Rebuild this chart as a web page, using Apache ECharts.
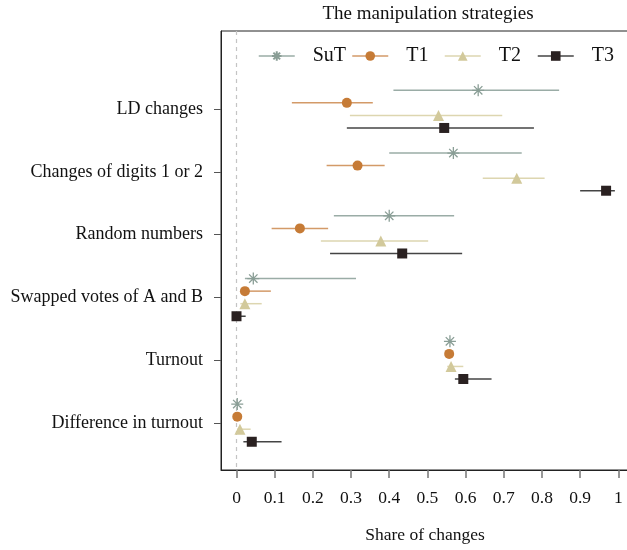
<!DOCTYPE html>
<html><head><meta charset="utf-8">
<script src="https://cdn.jsdelivr.net/npm/echarts@6/dist/echarts.min.js"></script>
<style>html,body{margin:0;padding:0;background:#fff}#c{width:627px;height:550px}</style>
</head><body><div id="c"></div>
<script>
const categories = ['LD changes','Changes of digits 1 or 2','Random numbers','Swapped votes of A and B','Turnout','Difference in turnout'];
const seriesNames = ['SuT','T1','T2','T3'];
const xTicks = [0,0.1,0.2,0.3,0.4,0.5,0.6,0.7,0.8,0.9,1];
// point estimates and interval ends per series (same order as categories)
const sutMean = [0.633, 0.568, 0.400, 0.044, 0.559, 0.002];
const sutLow  = [0.411, 0.400, 0.255, 0.022, 0.555, 0.000];
const sutHigh = [0.845, 0.747, 0.570, 0.313, 0.563, 0.004];
const t1Mean = [0.289, 0.317, 0.166, 0.022, 0.557, 0.002];
const t1Low  = [0.145, 0.236, 0.092, 0.015, 0.553, 0.000];
const t1High = [0.357, 0.388, 0.240, 0.090, 0.561, 0.004];
const t2Mean = [0.529, 0.734, 0.378, 0.022, 0.562, 0.009];
const t2Low  = [0.297, 0.645, 0.221, 0.010, 0.552, 0.002];
const t2High = [0.696, 0.807, 0.502, 0.066, 0.594, 0.037];
const t3Mean = [0.544, 0.968, 0.434, 0.000, 0.594, 0.040];
const t3Low  = [0.289, 0.900, 0.245, 0.000, 0.572, 0.018];
const t3High = [0.779, 0.991, 0.591, 0.024, 0.668, 0.118];

const FONT = 'Liberation Serif';
const colors = ['#8a9e96','#c67b36','#d2c99b','#2a2121'];
const barColors = ['#9aaca6','#d39a68','#ddd6b0','#444444'];
const offsets = [-0.30,-0.10,0.10,0.30];
const symbols = [
  'path://M0,-10L0,10M-10,0L10,0M-7,-7L7,7M-7,7L7,-7',
  'circle','triangle','rect'];
const symSizes = [12,10,11,10];
const legendLefts = [258,351.5,444,537];
const means=[sutMean,t1Mean,t2Mean,t3Mean], lows=[sutLow,t1Low,t2Low,t3Low], highs=[sutHigh,t1High,t2High,t3High];

const series=[];
for(let s=0;s<4;s++){
  const errData = categories.map((c,i)=>[lows[s][i],highs[s][i],i+1+offsets[s]]);
  series.push({
    type:'custom', name:seriesNames[s]+'_err', silent:true, z:2,
    renderItem:(params,api)=>{
      const a=api.coord([api.value(0),api.value(2)]);
      const b=api.coord([api.value(1),api.value(2)]);
      return {type:'line',shape:{x1:a[0],y1:a[1],x2:b[0],y2:b[1]},
        style:{stroke:barColors[s],lineWidth:1.5}};
    },
    encode:{x:[0,1],y:2},
    data:errData
  });
  const pts = categories.map((c,i)=>[means[s][i],i+1+offsets[s]]);
  const isAst = s===0;
  series.push({
    type:'line', name:seriesNames[s], z:5,
    data:pts, symbol:symbols[s], symbolSize:symSizes[s], showSymbol:true,
    lineStyle:{opacity:0,width:1.5,color:colors[s]},
    itemStyle: isAst ? {color:'rgba(0,0,0,0)',borderColor:colors[s],borderWidth:1.3} : {color:colors[s],borderWidth:0},
    emphasis:{disabled:true},
    markLine: s===0 ? {silent:true,symbol:'none',label:{show:false},
      lineStyle:{type:[4,4],color:'#c4c4c4',width:1.2,opacity:1},data:[{xAxis:0}]} : undefined
  });
}

const legends = seriesNames.map((n,s)=>({
  top:46,left:legendLefts[s],padding:0,itemWidth:36,itemHeight:12,
  data:[{name:n,lineStyle:{opacity:1,width:1.5,color:barColors[s]}}],
  textStyle:{fontFamily:FONT,fontSize:20,color:'#111',padding:[0,0,0,13]}
}));

const chart=echarts.init(document.getElementById('c'),null,{renderer:'canvas'});
chart.setOption({
  animation:false,
  backgroundColor:'#fff',
  textStyle:{fontFamily:FONT},
  title:{text:'The manipulation strategies',left:423,textAlign:'center',top:0,
    textStyle:{fontFamily:FONT,fontSize:19,fontWeight:'normal',color:'#111'}},
  legend:legends,
  grid:{left:221,top:31,width:408,bottom:80,outerBoundsMode:'none',containLabel:false,
    show:true,borderColor:'#222',borderWidth:1,backgroundColor:'#fff'},
  xAxis:{type:'value',min:-0.0406,max:1.028,
    name:'Share of changes',nameLocation:'middle',nameGap:56,
    nameTextStyle:{fontFamily:FONT,fontSize:17.5,color:'#111'},
    axisLine:{show:true,onZero:false,lineStyle:{color:'#222'}},
    axisTick:{show:true,customValues:xTicks,length:8,lineStyle:{color:'#777',width:1.5}},
    axisLabel:{customValues:xTicks,formatter:v=>String(+v.toFixed(1)),margin:19,fontFamily:FONT,fontSize:17.5,color:'#111'},
    splitLine:{show:false}},
  yAxis:{type:'value',inverse:true,min:-0.245,max:6.75,
    axisLine:{show:true,onZero:false,lineStyle:{color:'#222'}},
    axisTick:{show:true,customValues:[1,2,3,4,5,6],length:7,lineStyle:{color:'#555'}},
    axisLabel:{customValues:[1,2,3,4,5,6],formatter:v=>categories[Math.round(v)-1]||'',margin:18,
      fontFamily:FONT,fontSize:18,color:'#111'},
    splitLine:{show:false}},
  series:series
});
</script></body></html>
